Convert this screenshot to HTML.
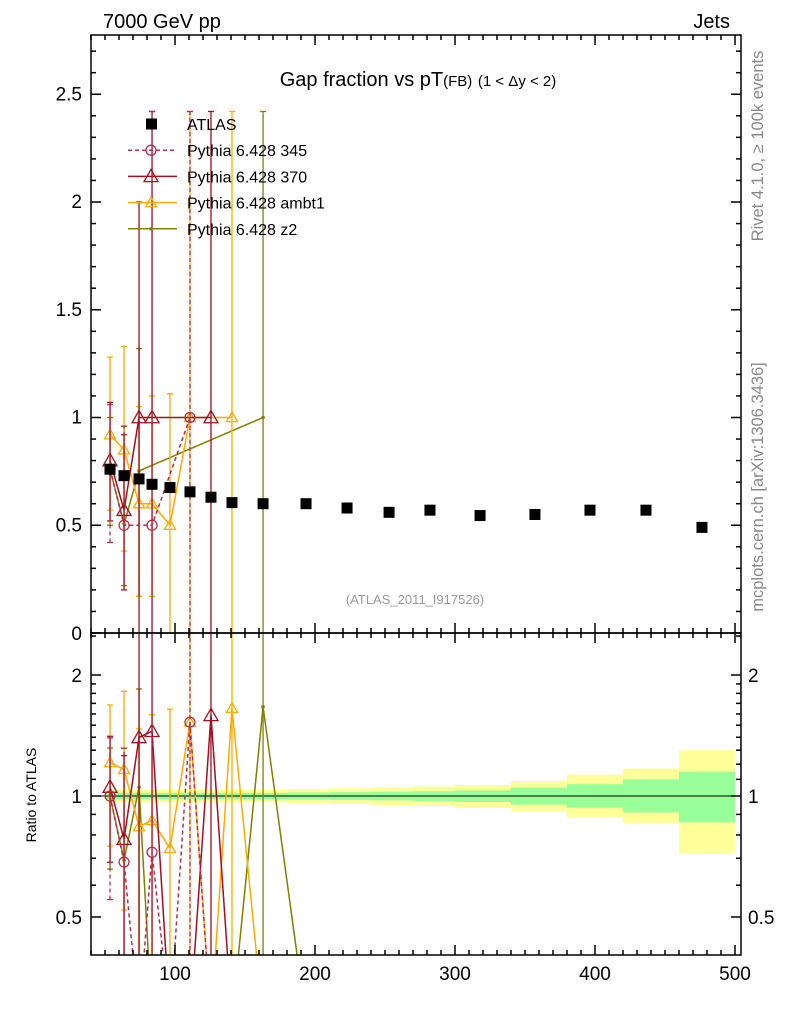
<!DOCTYPE html>
<html><head><meta charset="utf-8"><style>
body{margin:0;background:#fff;}
svg{display:block;font-family:"Liberation Sans",sans-serif;}
</style></head><body>
<svg id="c" width="786" height="1024" xmlns="http://www.w3.org/2000/svg"></svg>
<script>
const xCenters=[53.6,63.6,74.3,83.6,96.4,110.7,125.7,140.7,162.9,193.6,222.9,252.9,282.1,317.9,357.1,396.4,436.4,476.4];
const binEdges=[50,60,70,80,90,105,120,135,150,180,210,240,270,300,340,380,420,460,500];
const atlasVals=[0.76,0.73,0.715,0.69,0.675,0.655,0.63,0.605,0.60,0.60,0.58,0.56,0.57,0.545,0.55,0.57,0.57,0.49];
const yellowUp=[1.035,1.035,1.035,1.035,1.035,1.035,1.035,1.035,1.035,1.04,1.045,1.05,1.055,1.065,1.09,1.13,1.17,1.30];
const yellowDn=[0.965,0.965,0.965,0.965,0.965,0.965,0.965,0.965,0.965,0.96,0.955,0.95,0.945,0.935,0.915,0.885,0.855,0.72];
const greenUp=[1.018,1.018,1.018,1.018,1.018,1.018,1.018,1.018,1.018,1.02,1.022,1.025,1.028,1.033,1.05,1.07,1.10,1.15];
const greenDn=[0.982,0.982,0.982,0.982,0.982,0.982,0.982,0.982,0.982,0.98,0.978,0.975,0.972,0.967,0.952,0.935,0.91,0.86];
const p345Vals=[0.76,0.5,0,0.5,0,1.0,0];
const p345Lo=[0.42,0.2,0,0,0,0,0];
const p345Hi=[1.06,0.96,0,2.42,0,2.42,0];
const p370Vals=[0.8,0.57,1.0,1.0,0,0,1.0,0];
const p370Lo=[0.52,0.2,0,0,0,0,0,0];
const p370Hi=[1.07,0.92,2.0,2.42,0,0,2.42,0];
const ambt1Vals=[0.92,0.85,0.6,0.6,0.5,1.0,0,1.0,0];
const ambt1Lo=[0.57,0.38,0.17,0.17,0,0,0,0,0];
const ambt1Hi=[1.28,1.33,1.05,1.1,1.11,2.42,0,2.42,0];
const z2Vals=[0.76,0.505,0.752,0,0,0,0,0,1.0,0];
const z2Lo=[0.5,0.22,0.17,0,0,0,0,0,0,0];
const z2Hi=[1.0,0.96,1.32,0,0,0,0,0,2.42,0];
const mainTicks=[0.5,1,1.5,2,2.5];
const ratioTicks=[0.5,1,2];
const xTicks=[100,200,300,400,500];

const NS="http://www.w3.org/2000/svg";
const svg=document.getElementById('c');
const L=91,R=741,T=35,MB=633,RB=955;
const X=v=>35+1.4*v;
const Y=v=>633-215.5*v;
const YR=r=>r<=0?1020:796-121*Math.log2(r);
function el(tag,attrs,parent){const e=document.createElementNS(NS,tag);for(const k in attrs)e.setAttribute(k,attrs[k]);(parent||svg).appendChild(e);return e;}
function txt(s,x,y,size,anchor,fill,parent){const t=el('text',{x:x,y:y,'font-size':size,'text-anchor':anchor||'start',fill:fill||'#000'},parent);t.textContent=s;return t;}

const defs=el('defs',{});
const cm=el('clipPath',{id:'cm'},defs);el('rect',{x:L,y:T,width:R-L,height:MB-T},cm);
const cr=el('clipPath',{id:'cr'},defs);el('rect',{x:L,y:MB,width:R-L,height:RB-MB},cr);

let t=txt('7000 GeV pp',103,28,20);
t=txt('Jets',730,28,20,'end');
t=el('text',{x:418,y:86,'font-size':20,'text-anchor':'middle'});
t.innerHTML='Gap fraction vs pT<tspan font-size="15">(FB)</tspan> <tspan font-size="15">(1 &lt; Δy &lt; 2)</tspan>';

t=txt('Rivet 4.1.0, ≥ 100k events',0,0,16.5,'middle','#888');t.setAttribute('transform','translate(763,146) rotate(-90)');

t=txt('mcplots.cern.ch [arXiv:1306.3436]',0,0,16.5,'middle','#888');t.setAttribute('transform','translate(763,487) rotate(-90)');

t=txt('(ATLAS_2011_I917526)',415,604,13,'middle','#999');
t=txt('Ratio to ATLAS',0,0,14,'middle');t.setAttribute('transform','translate(36,795) rotate(-90)');


const gR=el('g',{'clip-path':'url(#cr)'});
for(let i=0;i<xCenters.length;i++){
  const x0=X(binEdges[i]),x1=X(binEdges[i+1]);
  let r=el('rect',{x:x0,y:YR(yellowUp[i]),width:x1-x0,height:YR(yellowDn[i])-YR(yellowUp[i]),fill:'#ffff99'},gR);
  
  r=el('rect',{x:x0,y:YR(greenUp[i]),width:x1-x0,height:YR(greenDn[i])-YR(greenUp[i]),fill:'#99ff99'},gR);
  
}
el('line',{x1:L,x2:R,y1:YR(1),y2:YR(1),stroke:'#000','stroke-width':1},gR);

const gM=el('g',{'clip-path':'url(#cm)'});

function marker(g,type,x,y,color,size){
  let m;
  if(type==='circle')m=el('circle',{cx:x,cy:y,r:5,fill:'none',stroke:color,'stroke-width':1.3},g);
  else if(type==='tri'){const s=size||7;m=el('polygon',{points:`${x},${y-s} ${x-s},${y+s*0.75} ${x+s},${y+s*0.75}`,fill:'none',stroke:color,'stroke-width':1.3},g);}
  else if(type==='dot')m=el('circle',{cx:x,cy:y,r:1.8,fill:color},g);
  
}
function series(name,vals,lo,hi,color,dash,mtype,msize){
  const n=vals.length;
  let pts=[];
  for(let i=0;i<n;i++){if(vals[i]>0){
    const x=X(xCenters[i]);
    const eb=el('line',{x1:x,x2:x,y1:Y(lo[i]),y2:Y(hi[i]),stroke:color,'stroke-width':1.3,'stroke-dasharray':dash||''},gM);
    
    for(const yy of [lo[i],hi[i]]) if(yy>0) el('line',{x1:x-3,x2:x+3,y1:Y(yy),y2:Y(yy),stroke:color,'stroke-width':1.3},gM);
    pts.push([x,Y(vals[i])]);
  }}
  let pl=el('polyline',{points:pts.map(p=>p.join(',')).join(' '),fill:'none',stroke:color,'stroke-width':1.5,'stroke-dasharray':dash||''},gM);
  
  pts.forEach(p=>marker(gM,mtype,p[0],p[1],color,msize));
  let rp=[];
  for(let i=0;i<n;i++){
    const x=X(xCenters[i]),r=vals[i]/atlasVals[i];
    if(vals[i]>0){
      const eb=el('line',{x1:x,x2:x,y1:YR(lo[i]/atlasVals[i]),y2:YR(hi[i]/atlasVals[i]),stroke:color,'stroke-width':1.3,'stroke-dasharray':dash||''},gR);
      
      for(const yy of [lo[i],hi[i]]) if(yy>0) el('line',{x1:x-3,x2:x+3,y1:YR(yy/atlasVals[i]),y2:YR(yy/atlasVals[i]),stroke:color,'stroke-width':1.3},gR);
    }
    rp.push([x,YR(r)]);
  }
  pl=el('polyline',{points:rp.map(p=>p.join(',')).join(' '),fill:'none',stroke:color,'stroke-width':1.5,'stroke-dasharray':dash||''},gR);
  
  rp.forEach((p,i)=>{if(vals[i]>0)marker(gR,mtype,p[0],p[1],color,msize);});
}
series('pythia-z2',z2Vals,z2Lo,z2Hi,'#808000','', 'dot');
series('pythia-ambt1',ambt1Vals,ambt1Lo,ambt1Hi,'#ffaa00','','tri',5.5);
series('pythia-370',p370Vals,p370Lo,p370Hi,'#a01020','','tri',7);
series('pythia-345',p345Vals,p345Lo,p345Hi,'#b03050','4,3','circle');

for(let i=0;i<xCenters.length;i++){
  const r=el('rect',{x:X(xCenters[i])-5.5,y:Y(atlasVals[i])-5.5,width:11,height:11,fill:'#000'},gM);
  
}

const leg=el('g',{});
const items=[['ATLAS','sq','#000',''],['Pythia 6.428 345','circle','#b03050','4,3'],['Pythia 6.428 370','tri','#a01020',''],['Pythia 6.428 ambt1','tri','#ffaa00',''],['Pythia 6.428 z2','dot','#808000','']];
items.forEach((it,k)=>{
  const y=124+26.2*k;
  const g=el('g',{},leg);
  if(it[1]==='sq')el('rect',{x:146,y:y-5.5,width:11,height:11,fill:'#000'},g);
  else{el('line',{x1:128,x2:177,y1:y,y2:y,stroke:it[2],'stroke-width':1.5,'stroke-dasharray':it[3]},g);marker(g,it[1],151,y,it[2],k===3?5.5:7);}
  txt(it[0],187,y+6,16,'start','#000',g);
});

const ax=el('g',{stroke:'#000','stroke-width':1.5,fill:'none'});
el('rect',{x:L,y:T,width:R-L,height:MB-T},ax);
el('rect',{x:L,y:MB,width:R-L,height:RB-MB},ax);
function tick(x1,y1,x2,y2){el('line',{x1,y1,x2,y2},ax);}
for(let v=40;v<=500;v+=10){
  const x=X(v);if(x<L||x>R)continue;
  const len=(v%100===0)?10:5;
  [[MB,-1],[T,1],[RB,-1],[MB,1]].forEach(([y,d])=>tick(x,y,x,y+d*len));
}
xTicks.forEach(v=>{const t=txt(String(v),X(v),980,19,'middle');});
for(let k=0;k<=27;k++){const v=k/10,y=Y(v);const len=(k%5===0)?10:5;tick(L,y,L+len,y);tick(R,y,R-len,y);}
mainTicks.forEach(v=>{const t=txt(String(v),82,Y(v)+6,19,'end');});
t=txt('0',82,640,19,'end');
const rmin=[0.4,0.5,0.6,0.7,0.8,0.9,1,1.1,1.2,1.3,1.4,1.5,1.6,1.7,1.8,1.9,2,2.5];
rmin.forEach(v=>{const y=YR(v);if(y<MB||y>RB)return;const len=ratioTicks.includes(v)?10:5;tick(L,y,L+len,y);tick(R,y,R-len,y);});
ratioTicks.forEach(v=>{let t=txt(String(v),82,YR(v)+7,19,'end');
  t=txt(String(v),748,YR(v)+7,19,'start');});
</script>
</body></html>
